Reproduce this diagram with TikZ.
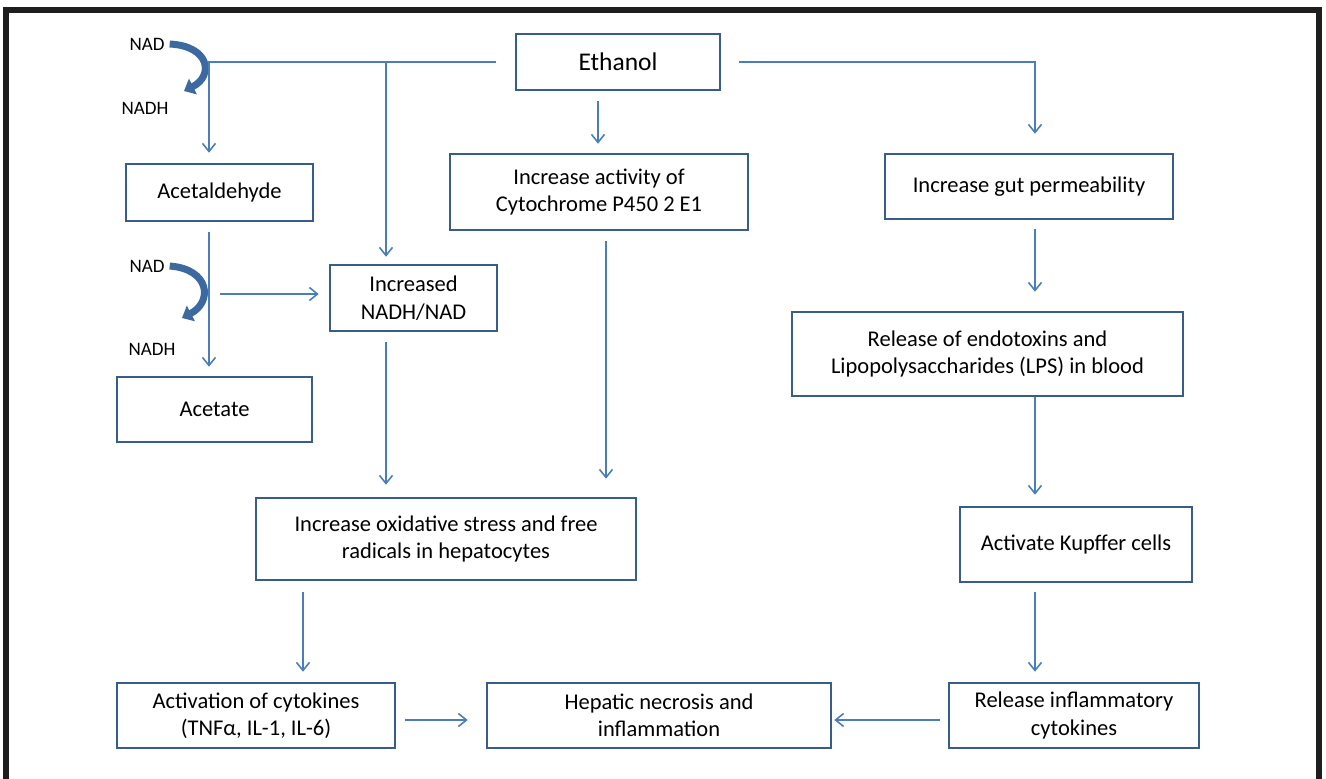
\documentclass[tikz,border=0pt]{standalone}
\usepackage{fontspec}
\setmainfont{Carlito}
\usetikzlibrary{arrows.meta,calc}
\definecolor{boxc}{HTML}{385D8A}
\definecolor{linec}{HTML}{4A7EBB}
\definecolor{curvc}{HTML}{3B69A0}
\definecolor{framec}{HTML}{1E1E1E}
\newcommand\mainfs{\fontsize{22.5}{27.5}\selectfont}
\newcommand\bigfs{\fontsize{25.5}{30}\selectfont}
\newcommand\smallfs{\fontsize{19}{22}\selectfont}
\tikzset{
  box/.style={draw=boxc, line width=2.6pt, fill=white, align=center, inner sep=0pt, font=\mainfs},
  conn/.style={draw=linec, line width=1.6pt, -{Straight Barb[length=8pt,width=13pt,line width=1.6pt]}},
  plain/.style={draw=linec, line width=1.6pt},
  curv/.style={draw=curvc, line width=7pt, -{Triangle[length=10pt,width=17pt]}},
  lbl/.style={font=\smallfs, inner sep=0pt}
}
\begin{document}
\begin{tikzpicture}[x=1pt,y=-1pt]
\useasboundingbox (0,0) rectangle (1326,779);
% frame
\draw[framec, line width=6pt] (6,779) -- (6,9.5) -- (1318.5,9.5) -- (1318.5,779);

% boxes
\node[box, font=\bigfs, minimum width=204pt, minimum height=56pt] (eth) at (618,62) {Ethanol};
\node[box, minimum width=187pt, minimum height=57pt] (acet) at (219.5,192.5) {Acetaldehyde};
\node[box, minimum width=298pt, minimum height=76pt] (cyto) at (599,192) {Increase activity of\\Cytochrome P450 2 E1};
\node[box, minimum width=288pt, minimum height=65pt] (gut) at (1029,186.5) {Increase gut permeability};
\node[box, minimum width=167pt, minimum height=66pt] (nadh) at (413.5,298) {Increased\\NADH/NAD};
\node[box, minimum width=195pt, minimum height=65pt] (acetate) at (214.5,409.5) {Acetate};
\node[box, minimum width=391pt, minimum height=84pt] (rel) at (987.5,354) {Release of endotoxins and\\Lipopolysaccharides (LPS) in blood};
\node[box, minimum width=232pt, minimum height=75pt] (kup) at (1076,544.5) {Activate Kupffer cells};
\node[box, minimum width=380pt, minimum height=82pt] (oxi) at (446,539) {Increase oxidative stress and free\\radicals in hepatocytes};
\node[box, minimum width=278pt, minimum height=65pt] (act) at (256,715.5) {Activation of cytokines\\(TNF\symbol{"03B1}, IL-1, IL-6)};
\node[box, minimum width=344pt, minimum height=65pt] (hep) at (659,715.5) {Hepatic necrosis and\\inflammation};
\node[box, minimum width=250pt, minimum height=65pt] (infl) at (1074,715.5) {Release inflammatory\\cytokines};

% NAD / NADH labels and curved arrows
\node[lbl] (nad1) at (147,44) {NAD};
\node[lbl] (nadh1) at (145,108) {NADH};
\node[lbl] (nad2) at (147,266) {NAD};
\node[lbl] (nadh2) at (152,349) {NADH};
\draw[curv] ([xshift=5pt]nad1.east) .. controls (210,46) and (214,76) .. (184,91);
\draw[curv] ([xshift=5pt]nad2.east) .. controls (210,269) and (213,302) .. (182,318);

% helper coordinates
\coordinate (xl) at (209,0);
\coordinate (xb) at (386,0);
\coordinate (xc) at (598,0);
\coordinate (xcy) at (606,0);
\coordinate (xo) at (303,0);
\coordinate (xr) at (1035,0);
\coordinate (ya) at (0,720);
\coordinate (h1) at (220,294);
\coordinate (j1) at (386,62);

% connectors
\draw[conn, shorten <=19pt, shorten >=10pt] (eth.west) -| (acet.north -| xl);
\draw[conn, shorten >=7pt] (j1) -- (nadh.north -| xb);
\draw[conn, shorten <=18pt, shorten >=19pt] (eth.east) -| (gut.north -| xr);
\draw[conn, shorten <=10pt, shorten >=9pt] (eth.south -| xc) -- (cyto.north -| xc);
\draw[conn, shorten <=10pt, shorten >=9pt] (acet.south -| xl) -- (acetate.north -| xl);
\draw[conn, shorten >=10pt] (h1) -- (nadh.west |- h1);
\draw[conn, shorten <=10pt, shorten >=12pt] (nadh.south -| xb) -- (oxi.north -| xb);
\draw[conn, shorten <=10pt, shorten >=18pt] (cyto.south -| xcy) -- (oxi.north -| xcy);
\draw[conn, shorten <=11pt, shorten >=10pt] (oxi.south -| xo) -- (act.north -| xo);
\draw[conn, shorten <=9pt, shorten >=18pt] (act.east |- ya) -- (hep.west |- ya);
\draw[conn, shorten <=8pt, shorten >=2pt] (infl.west |- ya) -- (hep.east |- ya);
\draw[conn, shorten <=9pt, shorten >=19pt] (gut.south -| xr) -- (rel.north -| xr);
\draw[conn, shorten >=11pt] (rel.south -| xr) -- (kup.north -| xr);
\draw[conn, shorten <=9pt, shorten >=10pt] (kup.south -| xr) -- (infl.north -| xr);
\end{tikzpicture}
\end{document}
